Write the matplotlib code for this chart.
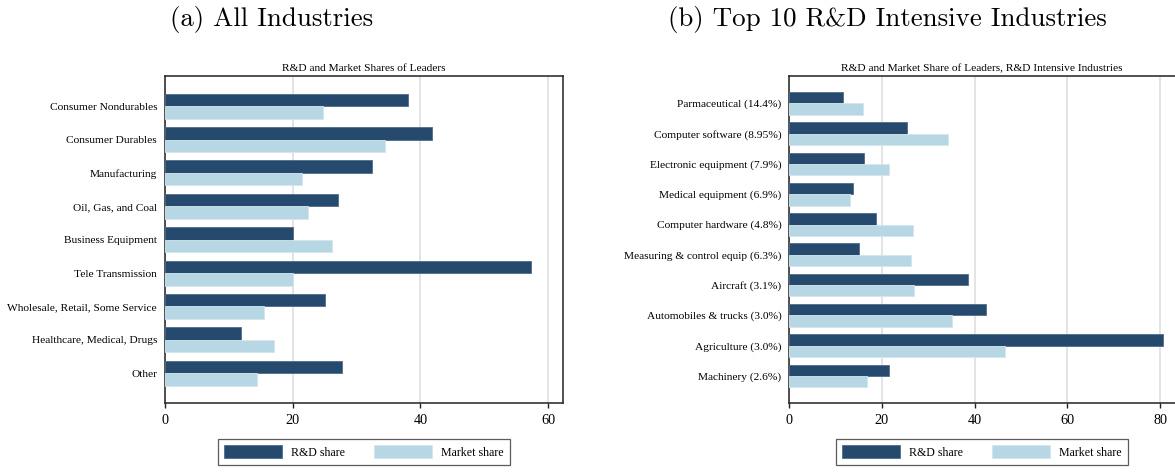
import matplotlib
matplotlib.use("Agg")
import matplotlib.pyplot as plt
import numpy as np
from matplotlib.patches import Patch

plt.rcParams['font.family'] = ['Liberation Serif', 'DejaVu Serif']

# panel (a): all industries
ind_all = ["Consumer Nondurables", "Consumer Durables", "Manufacturing",
           "Oil, Gas, and Coal", "Business Equipment", "Tele Transmission",
           "Wholesale, Retail, Some Service", "Healthcare, Medical, Drugs", "Other"]
rd_all = [38.1, 41.8, 32.4, 27.1, 20.1, 57.3, 25.1, 12.0, 27.7]
mkt_all = [24.8, 34.5, 21.5, 22.4, 26.1, 20.1, 15.6, 17.1, 14.4]

# panel (b): top 10 R&D intensive industries
ind_top = ["Parmaceutical (14.4%)", "Computer software (8.95%)",
           "Electronic equipment (7.9%)", "Medical equipment (6.9%)",
           "Computer hardware (4.8%)", "Measuring & control equip (6.3%)",
           "Aircraft (3.1%)", "Automobiles & trucks (3.0%)",
           "Agriculture (3.0%)", "Machinery (2.6%)"]
rd_top = [11.7, 25.4, 16.2, 13.7, 18.7, 15.0, 38.5, 42.4, 80.7, 21.6]
mkt_top = [16.0, 34.2, 21.5, 13.2, 26.8, 26.3, 27.0, 35.1, 46.5, 16.9]

navy = '#264a6e'
ltblue = '#b6d7e3'
W, H = 1175, 472

fig = plt.figure(figsize=(W / 100, H / 100), dpi=100)


def panel(rect, cats, rd, mkt, xmax, ticks, subtitle, full_box):
    ax = fig.add_axes(rect)
    y = np.arange(len(cats))
    h = 0.375
    ax.barh(y - h / 2, rd, height=h, color=navy, edgecolor='#4f6d8c',
            linewidth=0.6, zorder=3)
    ax.barh(y + h / 2, mkt, height=h, color=ltblue, edgecolor='#d3e7ee',
            linewidth=0.6, zorder=3)
    pad = 0.53
    ax.set_ylim(len(cats) - 1 + h + pad, -h - pad)
    ax.set_xlim(0, xmax)
    ax.set_yticks(y)
    ax.set_yticklabels(cats, fontsize=8.2)
    ax.tick_params(axis='y', length=0, pad=5.5)
    ax.set_xticks(ticks)
    ax.tick_params(axis='x', labelsize=10.3, length=3.6, width=1.0,
                   pad=4.0, color='#222222')
    ax.grid(axis='x', color='#dcdcdc', linewidth=1.1, zorder=0)
    for s in ax.spines.values():
        s.set_color('#222222')
        s.set_linewidth(1.1)
    if not full_box:
        ax.spines['right'].set_visible(False)
    ax.set_title(subtitle, fontsize=8.2, pad=3.5)
    handles = [Patch(facecolor=navy, edgecolor='#4f6d8c', linewidth=0.6),
               Patch(facecolor=ltblue, edgecolor='#d3e7ee', linewidth=0.6)]
    leg = ax.legend(handles, ["R&D share", "Market share"], ncol=2,
                    loc='upper center', bbox_to_anchor=(0.5, -0.108),
                    fontsize=8.6, frameon=True, fancybox=False,
                    handlelength=4.85, handleheight=1.25, handletextpad=0.75,
                    columnspacing=2.4, borderpad=0.55, borderaxespad=0)
    leg.get_frame().set_edgecolor('#333333')
    leg.get_frame().set_linewidth(0.9)
    return ax


bottom = 1 - 403.3 / H
height = 327.3 / H
panel([164.7 / W, bottom, (563 - 164.7) / W, height], ind_all, rd_all, mkt_all,
      62.3, [0, 20, 40, 60], "R&D and Market Shares of Leaders", True)
panel([789 / W, bottom, (W - 789) / W, height], ind_top, rd_top, mkt_top,
      83.2, [0, 20, 40, 60, 80],
      "R&D and Market Share of Leaders, R&D Intensive Industries", False)

fig.text(272 / W, 1 - 26 / H, "(a) All Industries", family='cmr10',
         fontsize=19.4, ha='center', va='baseline')
fig.text(887 / W, 1 - 26 / H, "(b) Top 10 R&D Intensive Industries",
         family='cmr10', fontsize=19.4, ha='center', va='baseline')

fig.savefig("out.png", dpi=100)
